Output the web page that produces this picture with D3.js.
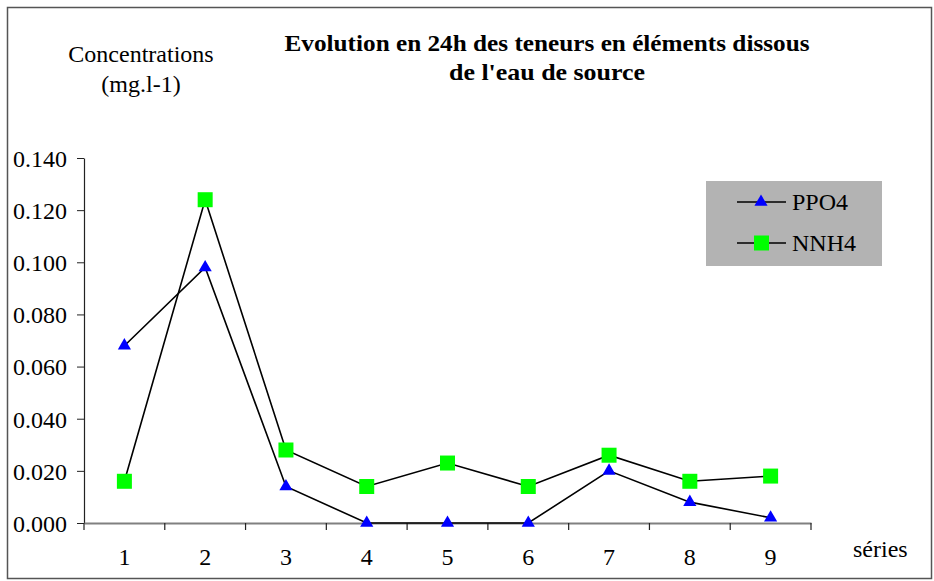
<!DOCTYPE html>
<html><head><meta charset="utf-8">
<script src="https://cdn.jsdelivr.net/npm/d3@7"></script>
</head><body style="margin:0;background:#fff">
<svg id="c" width="934" height="581"></svg>
<script>
const categories = ["1","2","3","4","5","6","7","8","9"];
const ppo4 = [0.068,0.098,0.014,0.000,0.000,0.000,0.020,0.008,0.002];
const nnh4 = [0.016,0.124,0.028,0.014,0.023,0.014,0.026,0.016,0.018];
const yTicks = [0,0.02,0.04,0.06,0.08,0.1,0.12,0.14];
const seriesNames = ["PPO4","NNH4"];
const titleLines = ["Evolution en 24h des teneurs en éléments dissous","de l'eau de source"];
const yLabelLines = ["Concentrations","(mg.l-1)"];
const xLabel = "séries";

const FF = "Liberation Serif";
const svg = d3.select("#c");
svg.append("rect").attr("x",7.5).attr("y",7.5).attr("width",924).attr("height",571)
  .attr("fill","#fff").attr("stroke","#555").attr("stroke-width",1.5);

const L=84,R=811,T=158,B=523;
const x = d3.scaleBand().domain(categories).range([L,R]);
const y = d3.scaleLinear().domain([0,0.14]).range([B,T]);

// y axis
const ya = svg.append("g").attr("transform",`translate(${L},0)`)
  .call(d3.axisLeft(y).tickValues(yTicks).tickFormat(d3.format(".3f")).tickSize(7).tickSizeOuter(0));
ya.select(".domain").attr("stroke","#222").attr("stroke-width",1.2);
ya.selectAll(".tick line").attr("stroke","#222");
ya.selectAll(".tick text").attr("x",-17).attr("dy","0.35em").style("font-size","24px").style("font-family",FF).attr("fill","#000");

// x axis
const xa = svg.append("g").attr("transform",`translate(0,${B})`)
  .call(d3.axisBottom(x).tickSize(0).tickSizeOuter(0));
xa.select(".domain").attr("stroke","#808080").attr("stroke-width",2);
xa.selectAll(".tick text").attr("y",25).attr("dy","0.71em").style("font-size","24px").style("font-family",FF).attr("fill","#000");
const bounds = categories.map(c=>x(c)).concat([R]);
svg.append("g").selectAll("line").data(bounds).join("line")
  .attr("x1",d=>d).attr("x2",d=>d).attr("y1",B).attr("y2",B+7).attr("stroke","#222").attr("stroke-width",1.2);

const cx = c => x(c)+x.bandwidth()/2;
const line = d3.line().x((d,i)=>cx(categories[i])).y(d=>y(d));
svg.append("path").attr("d",line(ppo4)).attr("fill","none").attr("stroke","#000").attr("stroke-width",1.6);
svg.append("path").attr("d",line(nnh4)).attr("fill","none").attr("stroke","#000").attr("stroke-width",1.6);

const tri = d3.symbol().type(d3.symbolTriangle).size(75);
svg.append("g").selectAll("path").data(ppo4).join("path")
  .attr("d",tri).attr("transform",(d,i)=>`translate(${cx(categories[i])},${y(d)})`).attr("fill","#0000ff");
svg.append("g").selectAll("rect").data(nnh4).join("rect")
  .attr("x",(d,i)=>cx(categories[i])-7.5).attr("y",d=>y(d)-7.5).attr("width",15).attr("height",15).attr("fill","#00ff00");

// titles
const tl = [525,196];
svg.append("g").selectAll("text").data(titleLines).join("text")
  .attr("x",547).attr("y",(d,i)=>51+i*29).attr("text-anchor","middle")
  .attr("textLength",(d,i)=>tl[i]).attr("lengthAdjust","spacingAndGlyphs")
  .style("font-family",FF).style("font-weight","bold").style("font-size","23px").text(d=>d);
svg.append("g").selectAll("text").data(yLabelLines).join("text")
  .attr("x",141).attr("y",(d,i)=>62+i*30).attr("text-anchor","middle")
  .style("font-family",FF).style("font-size","24px").text(d=>d);
svg.append("text").attr("x",853).attr("y",557).style("font-family",FF).style("font-size","24px").text(xLabel);

// legend
const lg = svg.append("g");
lg.append("rect").attr("x",706).attr("y",181).attr("width",176).attr("height",85).attr("fill","#b3b3b3");
const ly = [202,243];
seriesNames.forEach((n,i)=>{
  lg.append("line").attr("x1",737).attr("x2",786).attr("y1",ly[i]).attr("y2",ly[i]).attr("stroke","#000").attr("stroke-width",1.6);
  if(i===0) lg.append("path").attr("d",tri).attr("transform",`translate(761,${ly[i]})`).attr("fill","#0000ff");
  else lg.append("rect").attr("x",754).attr("y",ly[i]-7.5).attr("width",15).attr("height",15).attr("fill","#00ff00");
  lg.append("text").attr("x",792).attr("y",ly[i]).attr("dy","0.35em").style("font-family",FF).style("font-size","24px").text(n);
});
</script>
</body></html>
